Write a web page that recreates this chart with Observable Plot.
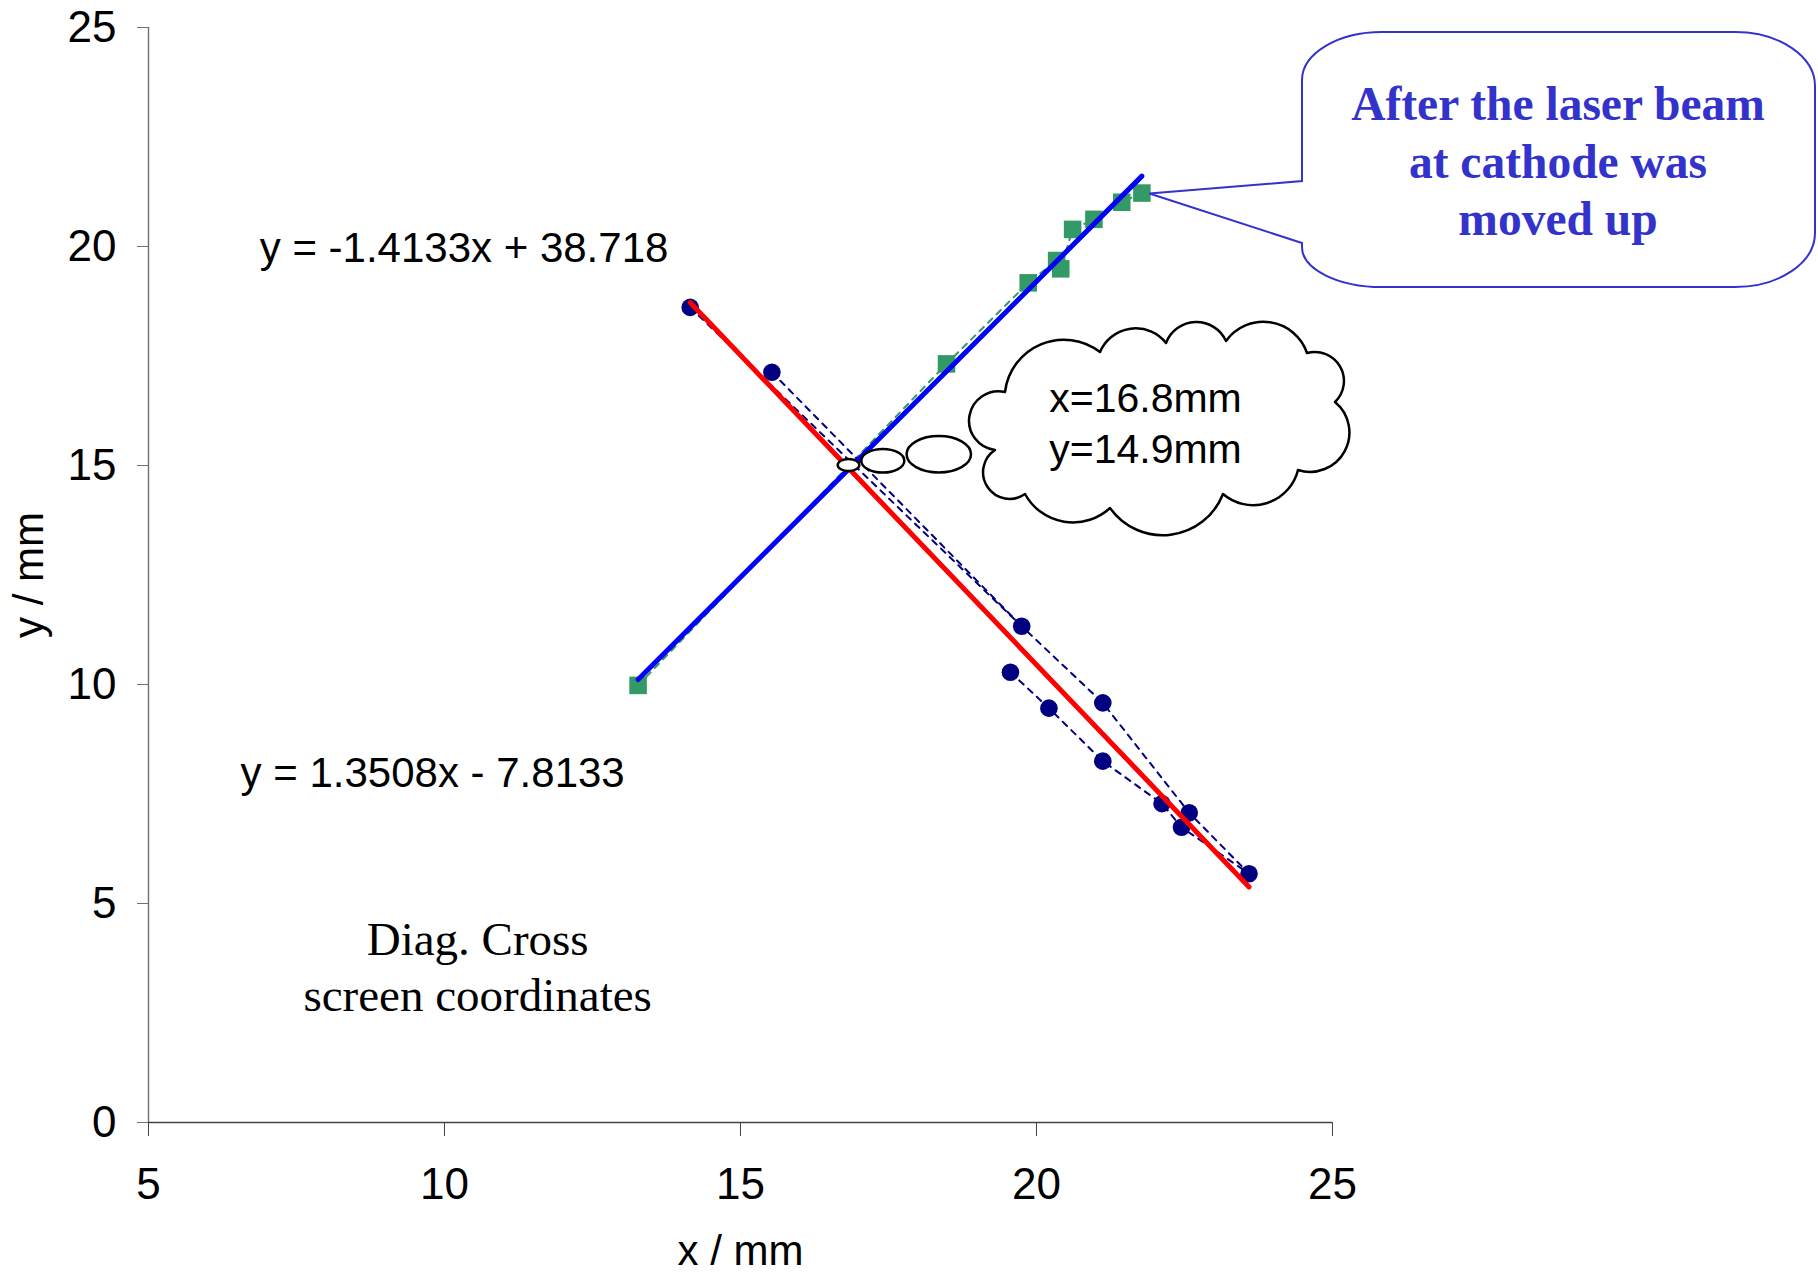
<!DOCTYPE html>
<html>
<head>
<meta charset="utf-8">
<script src="https://cdn.jsdelivr.net/npm/d3@7"></script>
<script src="https://cdn.jsdelivr.net/npm/@observablehq/plot@0.6"></script>
<style>
  html, body { margin: 0; padding: 0; background: #ffffff; }
  #chart svg { display: block; }
</style>
</head>
<body>
<div id="chart"></div>
<script>
// ---------------- data ----------------
const xTicks = [5, 10, 15, 20, 25];
const yTicks = [0, 5, 10, 15, 20, 25];

// green squares (vertical scan)
const squaresX = [13.27, 18.48, 19.86, 20.34, 20.41, 20.61, 20.97, 21.44, 21.78];
const squaresY = [9.98, 17.32, 19.17, 19.68, 19.49, 20.39, 20.62, 21.01, 21.22];

// navy circles (horizontal scan)
const circlesX = [14.15, 15.53, 19.75, 19.56, 20.21, 21.12, 21.12, 22.12, 22.45, 22.58, 23.59];
const circlesY = [18.61, 17.13, 11.33, 10.28, 9.46, 9.58, 8.25, 7.28, 6.74, 7.07, 5.68];
// dashed connections between circles (indices into the circle arrays)
const circlePaths = [[0, 2, 5, 9, 10], [1, 2], [3, 4, 6, 7, 8, 10]];

// linear trend lines
const fitBlue = { slope: 1.3508, intercept: -7.8133, label: "y = 1.3508x - 7.8133" };
const fitRed  = { slope: -1.4133, intercept: 38.718, label: "y = -1.4133x + 38.718" };

// texts
const eqLabels = [
  { text: fitRed.label,  x: 10.33, y: 19.95 },
  { text: fitBlue.label, x: 9.80,  y: 7.96 }
];
const noteLines = ["Diag. Cross", "screen coordinates"];
const noteAt = { x: 10.56, y: 3.6 };
const xTitle = "x / mm", yTitle = "y / mm";
const cloudLines = ["x=16.8mm", "y=14.9mm"];
const calloutLines = ["After the laser beam", "at cathode was", "moved up"];

// ---------------- derived tables ----------------
const squares = squaresX.map((x, i) => ({ x, y: squaresY[i] }));
const circles = circlesX.map((x, i) => ({ x, y: circlesY[i] }));
const circleSegs = circlePaths.flatMap((p, k) => p.map(i => ({ x: circlesX[i], y: circlesY[i], path: k })));
function fitLine(fit, xs) {
  const x0 = d3.min(xs), x1 = d3.max(xs);
  return [x0, x1].map(x => ({ x, y: fit.slope * x + fit.intercept }));
}
const blueLine = fitLine(fitBlue, squaresX);
const redLine = fitLine(fitRed, circlesX);

// ---------------- chart ----------------
const W = 1818, H = 1272;
const chart = Plot.plot({
  width: W, height: H,
  marginLeft: 148, marginRight: 486, marginTop: 27, marginBottom: 150,
  x: { domain: [5, 25] },
  y: { domain: [0, 25] },
  style: { fontFamily: "'Liberation Sans', Arial, sans-serif", background: "#ffffff", color: "#000", overflow: "visible" },
  marks: [
    Plot.ruleX([5], { stroke: "#707070", strokeWidth: 1.4 }),
    Plot.ruleY([0], { stroke: "#444", strokeWidth: 1.6 }),
    Plot.axisX({ ticks: xTicks, tickSize: 14, tickPadding: 31, fontSize: 44, label: null, stroke: "#444" }),
    Plot.axisY({ ticks: yTicks, tickSize: 11, tickPadding: 21, fontSize: 44, label: null, stroke: "#707070" }),
    Plot.text([xTitle], { frameAnchor: "bottom", lineAnchor: "middle", textAnchor: "middle", dy: 129, fontSize: 42 }),
    Plot.text([yTitle], { frameAnchor: "left", lineAnchor: "middle", textAnchor: "middle", dx: -119, rotate: -90, fontSize: 42 }),
    Plot.line(squares, { x: "x", y: "y", stroke: "#339966", strokeWidth: 2, strokeDasharray: "6,6" }),
    Plot.line(circleSegs, { x: "x", y: "y", z: "path", stroke: "#000080", strokeWidth: 2, strokeDasharray: "6,6" }),
    Plot.dot(circles, { x: "x", y: "y", r: 8.8, fill: "#000080" }),
    Plot.dot(squares, { x: "x", y: "y", symbol: "square", r: 9.9, fill: "#339966" }),
    Plot.line(blueLine, { x: "x", y: "y", stroke: "#0000FF", strokeWidth: 5, strokeLinecap: "round" }),
    Plot.line(redLine, { x: "x", y: "y", stroke: "#FF0000", strokeWidth: 5, strokeLinecap: "round" }),
    Plot.text(eqLabels, { x: "x", y: "y", text: "text", fontSize: 42 }),
    Plot.text([noteLines.join("\n")], { x: noteAt.x, y: noteAt.y, fontFamily: "'Liberation Serif', 'Times New Roman', serif", fontSize: 47, lineHeight: 1.21 })
  ]
});
document.getElementById("chart").appendChild(chart);

// ---------------- annotations (callout + thought cloud) ----------------
const sx = chart.scale("x"), sy = chart.scale("y");
const X = d3.scaleLinear(sx.domain, sx.range), Y = d3.scaleLinear(sy.domain, sy.range);
const svg = d3.select(chart);
const ann = svg.append("g");

// callout box pointing at the last green square
const last = squares[squares.length - 1];
const tip = [X(last.x) + 8, Y(last.y) + 1];
const box = { l: 1302, t: 32, r: 1815, b: 287, rx: 80, ryTL: 48, ryBL: 40, ryR: 54, pTop: 181, pBot: 243 };
const boxPath =
  `M${box.l + box.rx},${box.t} H${box.r - box.rx}` +
  ` A${box.rx},${box.ryR} 0 0 1 ${box.r},${box.t + box.ryR}` +
  ` V${box.b - box.ryR}` +
  ` A${box.rx},${box.ryR} 0 0 1 ${box.r - box.rx},${box.b}` +
  ` H${box.l + box.rx}` +
  ` A${box.rx},${box.ryBL} 0 0 1 ${box.l},${box.b - box.ryBL}` +
  ` V${box.pBot} L${tip[0]},${tip[1]} L${box.l},${box.pTop}` +
  ` V${box.t + box.ryTL}` +
  ` A${box.rx},${box.ryTL} 0 0 1 ${box.l + box.rx},${box.t} Z`;
ann.append("path").attr("d", boxPath).attr("fill", "#fff").attr("stroke", "#3333CC").attr("stroke-width", 2);
const cText = ann.append("text")
  .attr("text-anchor", "middle")
  .attr("font-family", "'Liberation Serif', 'Times New Roman', serif")
  .attr("font-weight", "bold").attr("font-size", 47.5).attr("fill", "#3333CC");
calloutLines.forEach((s, i) => cText.append("tspan").attr("x", 1558).attr("y", 120 + i * 57.5).text(s));

// thought bubbles
const bubbles = [
  { cx: 848.5, cy: 465, rx: 10.8, ry: 6 },
  { cx: 882.8, cy: 460.8, rx: 21.5, ry: 11.8 },
  { cx: 938.8, cy: 454.2, rx: 32.2, ry: 18.2 }
];
ann.selectAll("ellipse.b").data(bubbles).join("ellipse")
  .attr("cx", d => d.cx).attr("cy", d => d.cy).attr("rx", d => d.rx).attr("ry", d => d.ry)
  .attr("fill", "#fff").attr("stroke", "#000").attr("stroke-width", 2.5);

// cloud outline
const cloudPts = [[1005, 392], [1100, 352], [1166, 343], [1226, 341], [1307, 353], [1335, 402],
                  [1298, 470], [1223, 494], [1110, 508], [1025, 494], [995, 450]];
const cloudBulge = [30, 19, 20, 25, 22, 32, 22, 34, 21, 27, 31];
function cloudPath(pts, bulges) {
  let d = `M${pts[0][0]},${pts[0][1]}`;
  for (let i = 0; i < pts.length; i++) {
    const a = pts[i], b = pts[(i + 1) % pts.length], h = bulges[i];
    const c = Math.hypot(b[0] - a[0], b[1] - a[1]);
    const r = (h * h + c * c / 4) / (2 * h);
    const large = h > c / 2 ? 1 : 0;
    d += ` A${r},${r} 0 ${large} 1 ${b[0]},${b[1]}`;
  }
  return d + " Z";
}
ann.append("path").attr("d", cloudPath(cloudPts, cloudBulge))
  .attr("fill", "#fff").attr("stroke", "#000").attr("stroke-width", 2.5).attr("stroke-linejoin", "round");
const clText = ann.append("text")
  .attr("text-anchor", "middle")
  .attr("font-family", "'Liberation Sans', Arial, sans-serif")
  .attr("font-size", 41).attr("fill", "#000");
cloudLines.forEach((s, i) => clText.append("tspan").attr("x", 1145.5).attr("y", 411.7 + i * 51.6).text(s));
</script>
</body>
</html>
